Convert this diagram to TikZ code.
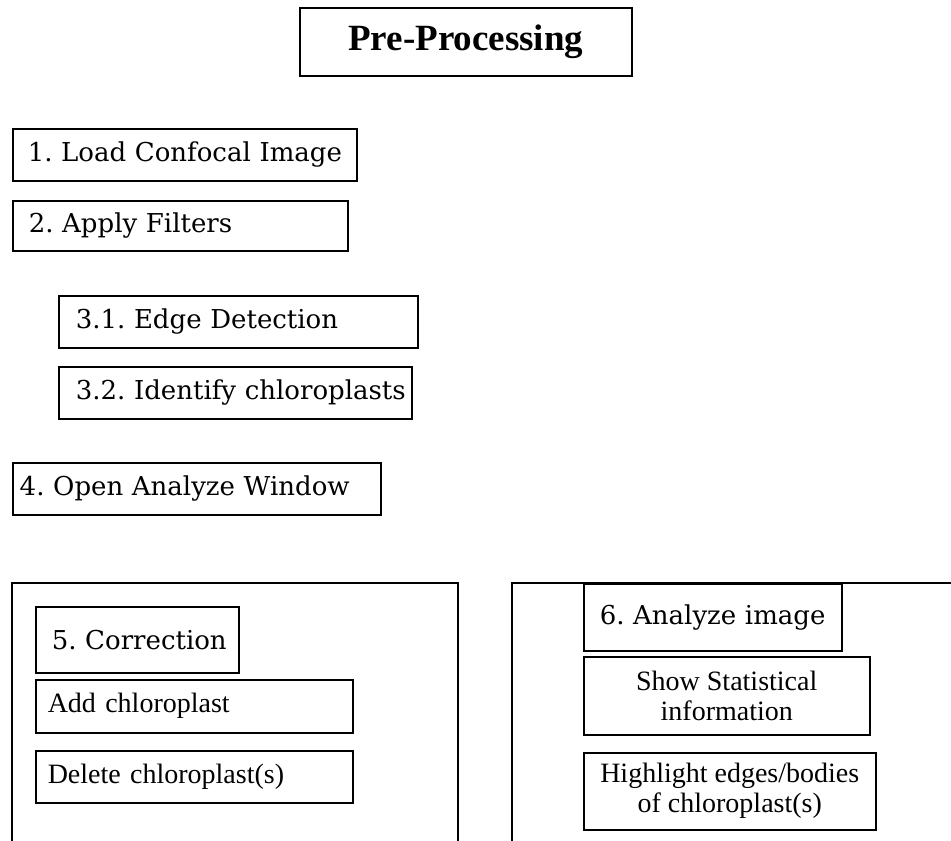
\documentclass[tikz,border=0pt]{standalone}
\usepackage{fontspec}
\setmainfont{Liberation Serif}
\newfontfamily\wideserif{DejaVu Serif}
\begin{document}
\frenchspacing
\begin{tikzpicture}[x=1pt,y=-1pt,
  box/.style={draw=black, line width=1.5pt, rectangle, anchor=north west, inner ysep=0pt},
  leftbox/.style={box, align=left},
  titlefont/.style={font=\fontsize{37}{40}\selectfont\bfseries},
  widefont/.style={font=\wideserif\fontsize{26}{30}\selectfont},
  bodyfont/.style={font=\fontsize{28}{30}\selectfont},
  frame/.style={draw=black, line width=1.5pt}]
\useasboundingbox (0,0) rectangle (951,841);

% title
\node[box, titlefont, minimum width=332pt, minimum height=68pt, inner xsep=0pt] (title) at (299,7) {Pre-Processing};

% steps
\node[leftbox, widefont, minimum width=344pt, minimum height=52pt, inner xsep=15pt, text width=314pt] (s1) at (12,128) {\mbox{1. Load Confocal Image}};
\node[leftbox, widefont, minimum width=335pt, minimum height=50pt, inner xsep=16pt, text width=303pt] (s2) at (12,200) {\mbox{2. Apply Filters}};
\node[leftbox, widefont, minimum width=359pt, minimum height=52pt, inner xsep=17pt, text width=325pt] (s31) at (58,295) {\mbox{3.1. Edge Detection}};
\node[leftbox, widefont, minimum width=353pt, minimum height=52pt, inner xsep=17pt, text width=319pt] (s32) at (58,366) {\mbox{3.2. Identify chloroplasts}};
\node[leftbox, widefont, minimum width=368pt, minimum height=52pt, inner xsep=7pt, text width=354pt] (s4) at (12,462) {\mbox{4. Open Analyze Window}};

% containers
\draw[frame] (12,841) -- (12,583) -- (458,583) -- (458,841);
\draw[frame] (512,841) -- (512,583) -- (951,583);

% correction panel
\node[leftbox, widefont, minimum width=203pt, minimum height=66pt, inner xsep=16pt, text width=171pt] (s5) at (35,606) {\mbox{5. Correction}};
\node[leftbox, bodyfont, minimum width=317pt, minimum height=53pt, inner xsep=12pt, text width=293pt] (add) at (35,679) {\mbox{Add chloroplast}};
\node[leftbox, bodyfont, minimum width=317pt, minimum height=52pt, inner xsep=12pt, text width=293pt] (del) at (35,750) {\mbox{Delete chloroplast(s)}};

% analysis panel
\node[leftbox, widefont, minimum width=258pt, minimum height=67pt, inner xsep=16pt, text width=226pt] (s6) at (583,583) {\mbox{6. Analyze image}};
\node[box, bodyfont, align=center, minimum width=286pt, minimum height=78pt, inner xsep=0pt] (stat) at (583,656) {Show Statistical\\information};
\node[box, bodyfont, align=center, minimum width=292pt, minimum height=77pt, inner xsep=0pt] (hl) at (583,752) {Highlight edges/bodies\\of chloroplast(s)};
\end{tikzpicture}
\end{document}
